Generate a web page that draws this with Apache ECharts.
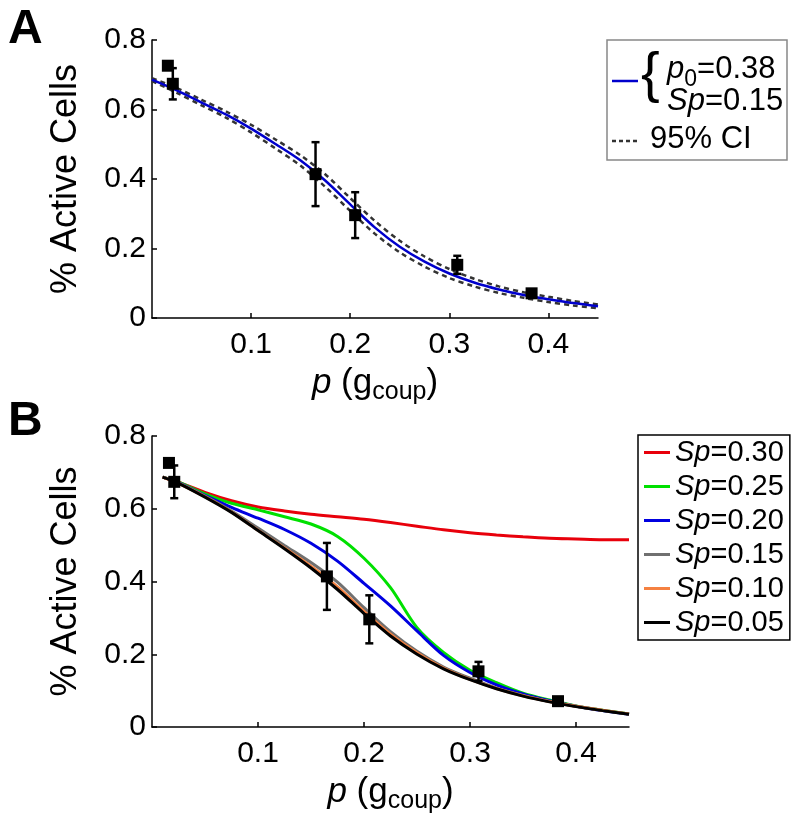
<!DOCTYPE html>
<html lang="en">
<head>
  <meta charset="UTF-8">
  <title>% Active Cells vs p</title>
  <style>
    * { margin: 0; padding: 0; }
    body { background: #fff; }
    #main { width: 796px; height: 834px; }
  </style>
</head>
<body>
  <div id="main"></div>
  <script src="https://cdn.jsdelivr.net/npm/echarts@6/dist/echarts.min.js"></script>
  <script>
    const FONT = 'Liberation Sans';

    // panel A: fitted curve and 95% CI
    const pA = [0, 0.025, 0.05, 0.075, 0.1, 0.125, 0.15, 0.175, 0.2, 0.225, 0.25, 0.275, 0.3, 0.325, 0.35, 0.375, 0.4, 0.425, 0.45];
    const fitA = [0.686, 0.655, 0.620, 0.585, 0.545, 0.500, 0.453, 0.395, 0.327, 0.260, 0.205, 0.162, 0.128, 0.102, 0.082, 0.066, 0.054, 0.043, 0.034];
    const ciUpA = [0.690, 0.662, 0.628, 0.594, 0.556, 0.513, 0.468, 0.413, 0.345, 0.279, 0.222, 0.177, 0.141, 0.113, 0.091, 0.074, 0.061, 0.049, 0.039];
    const ciLoA = [0.682, 0.648, 0.612, 0.576, 0.534, 0.487, 0.438, 0.377, 0.308, 0.242, 0.189, 0.148, 0.115, 0.091, 0.072, 0.058, 0.046, 0.036, 0.028];

    // panel B: model curves for different Sp
    const pB = [0.01, 0.025, 0.05, 0.075, 0.1, 0.125, 0.15, 0.175, 0.2, 0.225, 0.25, 0.275, 0.3, 0.325, 0.35, 0.375, 0.4, 0.425, 0.45];
    const sp30 = [0.687, 0.673, 0.645, 0.622, 0.605, 0.594, 0.585, 0.578, 0.571, 0.562, 0.552, 0.542, 0.534, 0.528, 0.523, 0.519, 0.517, 0.515, 0.515];
    const sp25 = [0.687, 0.673, 0.641, 0.615, 0.597, 0.578, 0.558, 0.524, 0.464, 0.383, 0.273, 0.205, 0.156, 0.122, 0.093, 0.074, 0.058, 0.046, 0.036];
    const sp20 = [0.687, 0.672, 0.637, 0.604, 0.574, 0.543, 0.505, 0.456, 0.395, 0.333, 0.264, 0.197, 0.150, 0.116, 0.091, 0.072, 0.057, 0.045, 0.035];
    const sp15 = [0.687, 0.671, 0.635, 0.594, 0.547, 0.499, 0.452, 0.398, 0.328, 0.262, 0.208, 0.165, 0.134, 0.107, 0.087, 0.070, 0.057, 0.046, 0.036];
    const sp10 = [0.687, 0.670, 0.633, 0.591, 0.541, 0.492, 0.442, 0.385, 0.318, 0.255, 0.204, 0.162, 0.131, 0.106, 0.086, 0.070, 0.057, 0.046, 0.036];
    const sp05 = [0.687, 0.670, 0.632, 0.590, 0.540, 0.490, 0.437, 0.378, 0.312, 0.250, 0.200, 0.160, 0.130, 0.105, 0.085, 0.069, 0.056, 0.045, 0.035];

    // experimental points (same in both panels)
    const expP = [0.016, 0.021, 0.165, 0.205, 0.308, 0.383];
    const expY = [0.726, 0.674, 0.414, 0.296, 0.153, 0.071];
    const expErr = [0, 0.045, 0.092, 0.066, 0.026, 0.010];

    const xTicks = [0.1, 0.2, 0.3, 0.4];
    const yTicks = [0, 0.2, 0.4, 0.6, 0.8];

    const zip = (xs, ys) => xs.map((x, i) => [x, ys[i]]);
    const expPts = zip(expP, expY);
    const expBars = expP.map((x, i) => [x, expY[i] - expErr[i], expY[i] + expErr[i]]);

    const bSeries = [
      { name: 'Sp=0.30', data: sp30, color: '#e8000b' },
      { name: 'Sp=0.25', data: sp25, color: '#00e000' },
      { name: 'Sp=0.20', data: sp20, color: '#0000e0' },
      { name: 'Sp=0.15', data: sp15, color: '#707070' },
      { name: 'Sp=0.10', data: sp10, color: '#f58141' },
      { name: 'Sp=0.05', data: sp05, color: '#000000' }
    ];

    const chart = echarts.init(document.getElementById('main'));

    function xAxis(gridIndex) {
      return {
        type: 'value', gridIndex, min: 0, max: 0.45,
        name: '{it|p} (g{sub|coup})',
        nameLocation: 'middle', nameGap: 44,
        nameTextStyle: {
          color: '#000', fontFamily: FONT, fontSize: 35,
          rich: {
            it: { fontStyle: 'italic', fontSize: 35, fontFamily: FONT, color: '#000' },
            sub: { fontSize: 25, fontFamily: FONT, color: '#000', padding: [18, 0, 0, 0] }
          }
        },
        axisLine: { onZero: false, lineStyle: { color: '#000', width: 1.5 } },
        axisTick: { inside: true, length: 5, customValues: xTicks, lineStyle: { color: '#000', width: 1.5 } },
        axisLabel: { customValues: xTicks, margin: 12, color: '#000', fontFamily: FONT, fontSize: 30,
          formatter: v => v.toFixed(1) },
        splitLine: { show: false }
      };
    }
    function yAxis(gridIndex) {
      return {
        type: 'value', gridIndex, min: 0, max: 0.8,
        name: '% Active Cells',
        nameLocation: 'middle', nameGap: 68, nameRotate: 90,
        nameTextStyle: { color: '#000', fontFamily: FONT, fontSize: 36 },
        axisLine: { show: true, onZero: false, lineStyle: { color: '#000', width: 1.5 } },
        axisTick: { show: true, inside: true, length: 5, customValues: yTicks, lineStyle: { color: '#000', width: 1.5 } },
        axisLabel: { customValues: yTicks, margin: 6, color: '#000', fontFamily: FONT, fontSize: 30,
          formatter: v => v === 0 ? '0' : v.toFixed(1) },
        splitLine: { show: false }
      };
    }

    function errorSeries(idx) {
      return {
        type: 'custom', xAxisIndex: idx, yAxisIndex: idx, z: 8,
        data: expBars,
        encode: { x: 0, y: [1, 2] },
        renderItem: (params, api) => {
          const x = api.value(0);
          const top = api.coord([x, api.value(2)]);
          const bot = api.coord([x, api.value(1)]);
          const hw = 4;
          const st = { stroke: '#000', lineWidth: 2.5 };
          return {
            type: 'group',
            children: [
              { type: 'line', shape: { x1: top[0], y1: top[1], x2: bot[0], y2: bot[1] }, style: st },
              { type: 'line', shape: { x1: top[0] - hw, y1: top[1], x2: top[0] + hw, y2: top[1] }, style: st },
              { type: 'line', shape: { x1: bot[0] - hw, y1: bot[1], x2: bot[0] + hw, y2: bot[1] }, style: st }
            ]
          };
        }
      };
    }
    function pointSeries(idx) {
      return {
        type: 'scatter', xAxisIndex: idx, yAxisIndex: idx, z: 9,
        data: expPts, symbol: 'rect', symbolSize: 12,
        itemStyle: { color: '#000', opacity: 1 }
      };
    }

    const lineBase = { type: 'line', showSymbol: false, symbol: 'none', smooth: 0.3 };

    chart.setOption({
      animation: false,
      backgroundColor: '#fff',
      grid: [
        { left: 152, top: 40, width: 446, height: 278 },
        { left: 152, top: 436, width: 477, height: 291 }
      ],
      xAxis: [xAxis(0), xAxis(1)],
      yAxis: [yAxis(0), yAxis(1)],
      legend: {
        orient: 'vertical', left: 638, top: 435,
        selectedMode: false,
        data: bSeries.map(s => s.name),
        icon: 'rect', itemWidth: 26, itemHeight: 3, itemGap: 5,
        padding: [3, 6, 3, 6],
        borderColor: '#000', borderWidth: 1.5, backgroundColor: '#fff',
        formatter: n => '{it|Sp}' + n.slice(2),
        textStyle: {
          color: '#000', fontFamily: FONT, fontSize: 29,
          rich: { it: { fontStyle: 'italic', fontFamily: FONT, fontSize: 29, color: '#000' } }
        }
      },
      graphic: [
        { type: 'text', left: 8, top: 6, style: { text: 'A', font: 'bold 48px ' + FONT, fill: '#000' } },
        { type: 'text', left: 8, top: 398, style: { text: 'B', font: 'bold 48px ' + FONT, fill: '#000' } },
        // legend of panel A
        { type: 'rect', shape: { x: 607, y: 40, width: 180, height: 120 }, style: { fill: '#fff', stroke: '#888', lineWidth: 1.5 }, z: 10 },
        { type: 'line', shape: { x1: 612, y1: 81, x2: 638, y2: 81 }, style: { stroke: '#0000cc', lineWidth: 2.5 }, z: 11 },
        { type: 'text', x: 641, y: 48, z: 11, style: { text: '{', font: '56px ' + FONT, fill: '#000' } },
        { type: 'text', x: 667, y: 48, z: 11, style: {
            text: '{it|p}{sub|0}=0.38', font: '31px ' + FONT, fill: '#000',
            rich: { it: { fontStyle: 'italic', fontSize: 31, fontFamily: FONT }, sub: { fontSize: 23, fontFamily: FONT, padding: [20, 0, 0, 0] } } } },
        { type: 'text', x: 667, y: 86, z: 11, style: {
            text: '{it|Sp}=0.15', font: '31px ' + FONT, fill: '#000',
            rich: { it: { fontStyle: 'italic', fontSize: 31, fontFamily: FONT } } } },
        { type: 'line', shape: { x1: 612, y1: 141, x2: 638, y2: 141 }, style: { stroke: '#333', lineWidth: 2.5, lineDash: [4, 3] }, z: 11 },
        { type: 'text', x: 650, y: 124, z: 11, style: { text: '95% CI', font: '31px ' + FONT, fill: '#000' } }
      ],
      series: [
        Object.assign({}, lineBase, { xAxisIndex: 0, yAxisIndex: 0, data: zip(pA, ciUpA), z: 2,
          lineStyle: { color: '#333', width: 2.5, type: [5, 4] } }),
        Object.assign({}, lineBase, { xAxisIndex: 0, yAxisIndex: 0, data: zip(pA, ciLoA), z: 2,
          lineStyle: { color: '#333', width: 2.5, type: [5, 4] } }),
        Object.assign({}, lineBase, { xAxisIndex: 0, yAxisIndex: 0, data: zip(pA, fitA), z: 3,
          lineStyle: { color: '#0000cc', width: 2.5 } }),
        errorSeries(0),
        pointSeries(0),
        errorSeries(1),
        pointSeries(1),
        ...bSeries.map(s => Object.assign({}, lineBase, {
          name: s.name, xAxisIndex: 1, yAxisIndex: 1, data: zip(pB, s.data), z: 6,
          itemStyle: { color: s.color },
          lineStyle: { color: s.color, width: 3 }
        }))
      ]
    });
  </script>
</body>
</html>
